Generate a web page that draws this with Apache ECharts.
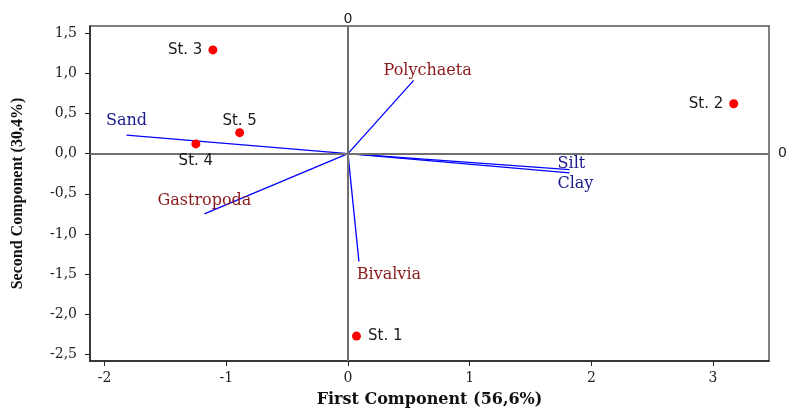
<!DOCTYPE html>
<html>
<head>
<meta charset="utf-8">
<script src="https://cdn.jsdelivr.net/npm/echarts@6/dist/echarts.min.js"></script>
<style>html,body{margin:0;padding:0;background:#fff;}#c{width:787px;height:410px;}</style>
</head>
<body>
<div id="c"></div>
<script>
// ---- data ----
const stations = ['St. 1', 'St. 2', 'St. 3', 'St. 4', 'St. 5'];
const stationPC1 = [0.07, 3.17, -1.11, -1.25, -0.89];
const stationPC2 = [-2.27, 0.62, 1.29, 0.12, 0.26];

const variables = ['Sand', 'Silt', 'Clay', 'Polychaeta', 'Gastropoda', 'Bivalvia'];
const varPC1 = [-1.82, 1.82, 1.82, 0.54, -1.18, 0.09];
const varPC2 = [0.23, -0.20, -0.24, 0.91, -0.75, -1.34];
const varGroup = ['env', 'env', 'env', 'bio', 'bio', 'bio'];

const xTicks = [-2, -1, 0, 1, 2, 3];
const yTicks = [-2.5, -2.0, -1.5, -1.0, -0.5, 0.0, 0.5, 1.0, 1.5];
const xTitle = 'First Component (56,6%)';
const yTitle = 'Second Component (30,4%)';

// ---- styles ----
const stationLabelPos = { 'St. 1': 'right', 'St. 2': 'left', 'St. 3': 'left', 'St. 4': 'bottom', 'St. 5': 'top' };
const stationLabelDist = { 'St. 1': 7, 'St. 2': 6, 'St. 3': 6, 'St. 4': 5, 'St. 5': 0 };
const varLabelOffset = {
  'Sand': [0, -14], 'Silt': [2, -6], 'Clay': [6, 11],
  'Polychaeta': [14, -10], 'Gastropoda': [0, -13], 'Bivalvia': [30, 14]
};
const groupColor = { env: '#1a1a8c', bio: '#8b1a1a' };

const chart = echarts.init(document.getElementById('c'), null, { renderer: 'canvas' });

const option = {
  animation: false,
  grid: { left: 90, top: 26, right: 18, bottom: 49, outerBoundsMode: 'none', containLabel: false, show: true, borderColor: '#555', borderWidth: 1.5, backgroundColor: 'transparent' },
  xAxis: {
    type: 'value', min: -2.12, max: 3.46,
    splitLine: { show: false },
    axisLine: { onZero: false, lineStyle: { color: '#222', width: 1.5 } },
    axisTick: { customValues: xTicks, length: 5, lineStyle: { color: '#222', width: 1 } },
    axisLabel: { customValues: xTicks, margin: 10, color: '#222', fontFamily: 'DejaVu Serif', fontSize: 14, formatter: v => String(Math.round(v)) },
    name: xTitle, nameLocation: 'middle', nameGap: 31,
    nameTextStyle: { fontFamily: 'DejaVu Serif', fontWeight: 'bold', fontSize: 16, color: '#111' }
  },
  yAxis: {
    type: 'value', min: -2.58, max: 1.587,
    splitLine: { show: false },
    axisLine: { onZero: false, lineStyle: { color: '#222', width: 1.5 } },
    axisTick: { customValues: yTicks, length: 5, lineStyle: { color: '#222', width: 1 } },
    axisLabel: { customValues: yTicks, margin: 13, color: '#222', fontFamily: 'DejaVu Serif', fontSize: 14, formatter: v => (Math.round(v * 10) / 10).toFixed(1).replace('.', ',') },
    name: yTitle, nameLocation: 'middle', nameGap: 64,
    nameTextStyle: { fontFamily: 'Liberation Serif', fontWeight: 'bold', fontSize: 16, color: '#111' }
  },
  series: [
    {
      type: 'scatter', silent: true, symbolSize: 0, z: 1,
      data: [],
      markLine: {
        silent: true, symbol: 'none', animation: false,
        lineStyle: { color: '#707070', width: 2, type: 'solid', opacity: 1 },
        label: { show: true, position: 'end', formatter: '0', color: '#222', fontFamily: 'DejaVu Sans', fontSize: 14 },
        data: [{ xAxis: 0, label: { distance: 0 } }, { yAxis: 0, label: { distance: 9 } }]
      }
    },
    {
      type: 'lines', coordinateSystem: 'cartesian2d', z: 3, silent: true,
      lineStyle: { color: '#0000ff', width: 1.3, opacity: 1 },
      data: variables.map((v, i) => ({ coords: [[0, 0], [varPC1[i], varPC2[i]]] }))
    },
    {
      type: 'scatter', z: 4, symbolSize: 0, silent: true,
      itemStyle: { opacity: 1 },
      data: variables.map((v, i) => ({
        name: v, value: [varPC1[i], varPC2[i]],
        label: {
          show: true, formatter: v, position: 'inside', offset: varLabelOffset[v],
          color: groupColor[varGroup[i]], opacity: 1, fontFamily: 'DejaVu Serif', fontSize: 16
        }
      }))
    },
    {
      type: 'scatter', z: 5, symbolSize: 9, silent: true,
      itemStyle: { color: '#ff0000', opacity: 1 },
      data: stations.map((s, i) => ({
        name: s, value: [stationPC1[i], stationPC2[i]],
        label: { show: true, formatter: s, position: stationLabelPos[s], distance: stationLabelDist[s], color: '#1a1a1a', opacity: 1, fontFamily: 'DejaVu Sans', fontSize: 15 }
      }))
    }
  ]
};
chart.setOption(option);
</script>
</body>
</html>
